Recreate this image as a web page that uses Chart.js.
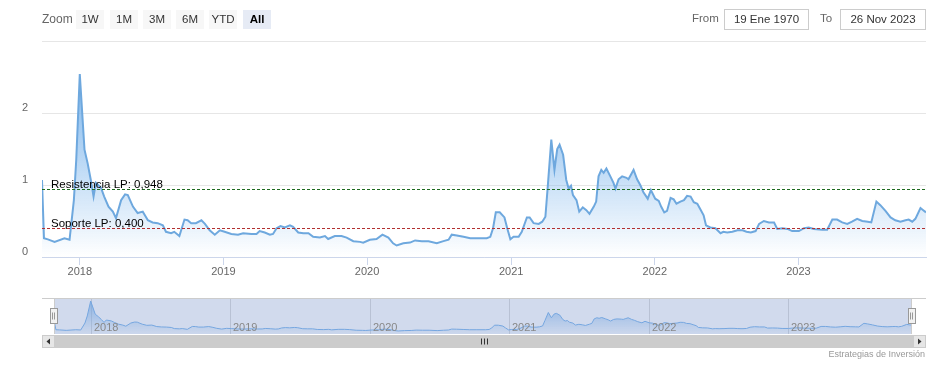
<!DOCTYPE html>
<html lang="es">
<head>
<meta charset="UTF-8">
<title>Resistencia y soporte</title>
<script src="https://cdn.jsdelivr.net/npm/chart.js@4"></script>
<style>
  body { margin: 0; background: #fff; font-family: 'Liberation Sans', Arial, sans-serif; }
  #wrap { position: relative; width: 946px; height: 365px; overflow: hidden; }
  #main { position: absolute; left: 0; top: 0; }
  #nav { position: absolute; left: 0; top: 290px; }
  .top { position: absolute; z-index: 2; }
  .zoom-label { left: 42px; top: 12px; font-size: 12px; color: #666; }
  .btn { top: 10px; width: 28px; height: 19px; line-height: 19px; text-align: center;
         font-size: 11.5px; color: #333; background: #f7f7f7; }
  .btn.active { background: #e6ebf5; font-weight: bold; color: #000; }
  .lbl { top: 12px; font-size: 11.5px; color: #666; }
  .box { top: 9px; height: 19px; line-height: 19px; border: 1px solid #ccc; text-align: center;
         font-size: 11.5px; color: #333; background: #fff; }
  .credit { position: absolute; right: 21px; top: 349px; font-size: 9px; color: #999; }
</style>
</head>
<body>
<div id="wrap">
  <canvas id="main" width="946" height="290"></canvas>
  <canvas id="nav" width="946" height="75"></canvas>
  <div class="top zoom-label">Zoom</div>
  <div id="buttons"></div>
  <div class="top lbl" style="left:692px">From</div>
  <div class="top box" style="left:724px;width:83px">19 Ene 1970</div>
  <div class="top lbl" style="left:820px">To</div>
  <div class="top box" style="left:840px;width:84px">26 Nov 2023</div>
  <div class="credit">Estrategias de Inversión</div>
</div>

<script>
// ---- data ----
const dates = [
  '2017-09-27','2017-10-02','2017-10-12','2017-10-29','2017-11-23','2017-12-06','2017-12-17','2017-12-23',
  '2018-01-01','2018-01-13','2018-01-21','2018-01-29','2018-02-05','2018-02-11','2018-02-24','2018-03-04','2018-03-15','2018-03-26',
  '2018-04-03','2018-04-16','2018-04-26','2018-05-03','2018-05-16','2018-05-28','2018-06-10','2018-06-23','2018-07-05','2018-07-18',
  '2018-07-31','2018-08-08','2018-08-21','2018-08-29','2018-09-11','2018-09-24','2018-10-02','2018-10-11','2018-10-23','2018-11-06',
  '2018-11-15','2018-11-27','2018-12-10','2018-12-23',
  '2019-01-04','2019-01-21','2019-02-07','2019-02-20','2019-03-13','2019-03-26','2019-04-03','2019-04-16','2019-04-29','2019-05-07',
  '2019-05-16','2019-05-26','2019-06-06','2019-06-19','2019-06-27','2019-07-10','2019-07-23','2019-08-05','2019-08-17','2019-09-03',
  '2019-09-16','2019-09-24','2019-10-11','2019-10-28','2019-11-10','2019-11-27','2019-12-14','2019-12-22',
  '2020-01-08','2020-01-25','2020-02-09','2020-02-24','2020-03-07','2020-03-16','2020-04-02','2020-04-19','2020-05-02','2020-05-19',
  '2020-06-05','2020-06-26','2020-07-13','2020-07-26','2020-08-03','2020-08-16','2020-09-02','2020-09-19','2020-10-06','2020-10-31',
  '2020-11-09','2020-11-16','2020-11-23','2020-12-03','2020-12-15','2020-12-22','2020-12-30',
  '2021-01-07','2021-01-20','2021-01-28','2021-02-10','2021-02-17','2021-02-27','2021-03-12','2021-03-21','2021-03-29','2021-04-04',
  '2021-04-13','2021-04-21','2021-04-28','2021-05-04','2021-05-13','2021-05-21','2021-05-27','2021-06-02','2021-06-07','2021-06-16',
  '2021-06-23','2021-07-02','2021-07-11','2021-07-19','2021-07-30','2021-08-05','2021-08-11','2021-08-18','2021-08-24','2021-08-31',
  '2021-09-10','2021-09-18','2021-09-23','2021-10-01','2021-10-10','2021-10-21','2021-10-26','2021-11-02','2021-11-08','2021-11-17',
  '2021-11-25','2021-12-03','2021-12-14','2021-12-22',
  '2022-01-02','2022-01-11','2022-01-17','2022-01-25','2022-02-01','2022-02-10','2022-02-18','2022-02-25','2022-03-07','2022-03-16',
  '2022-03-24','2022-04-02','2022-04-10','2022-04-19','2022-04-27','2022-05-05','2022-05-11','2022-05-22','2022-06-04','2022-06-17',
  '2022-06-24','2022-07-04','2022-07-17','2022-07-30','2022-08-12','2022-08-22','2022-09-02','2022-09-14','2022-09-23','2022-10-05',
  '2022-10-18','2022-10-31','2022-11-08','2022-11-21','2022-12-04','2022-12-16',
  '2023-01-02','2023-01-15','2023-01-27','2023-02-09','2023-03-02','2023-03-15','2023-03-28','2023-04-09','2023-04-22','2023-05-05',
  '2023-05-17','2023-05-30','2023-06-12','2023-06-26','2023-07-05','2023-07-18','2023-07-28','2023-08-10','2023-08-23','2023-09-04',
  '2023-09-17','2023-09-30','2023-10-08','2023-10-17','2023-10-25','2023-11-07','2023-11-14','2023-11-21'
];
const values = [
  1.07,0.26,0.245,0.21,0.26,0.24,0.79,1.35,
  2.54,1.49,1.30,1.07,0.84,1.03,0.96,0.84,0.70,0.63,
  0.54,0.79,0.87,0.86,0.70,0.61,0.63,0.51,0.48,0.47,
  0.44,0.35,0.33,0.35,0.29,0.52,0.51,0.47,0.47,0.51,
  0.46,0.37,0.31,0.37,
  0.35,0.32,0.31,0.33,0.32,0.32,0.36,0.34,0.31,0.32,
  0.40,0.43,0.41,0.44,0.42,0.34,0.33,0.33,0.28,0.27,
  0.29,0.25,0.29,0.29,0.27,0.22,0.21,0.20,
  0.24,0.25,0.31,0.27,0.19,0.16,0.19,0.20,0.23,0.22,
  0.22,0.19,0.22,0.24,0.31,0.30,0.28,0.26,0.26,0.26,
  0.28,0.40,0.62,0.62,0.55,0.40,0.245,
  0.28,0.28,0.35,0.55,0.55,0.47,0.46,0.49,0.56,0.98,
  1.63,1.21,1.50,1.56,1.42,1.07,0.95,0.99,0.86,0.79,
  0.63,0.69,0.65,0.60,0.70,0.77,1.12,1.21,1.17,1.23,
  1.12,1.03,0.95,1.08,1.12,1.10,1.08,1.15,1.21,1.08,
  1.00,0.90,0.81,0.93,
  0.81,0.78,0.70,0.62,0.64,0.82,0.80,0.74,0.77,0.79,
  0.85,0.84,0.76,0.74,0.66,0.58,0.44,0.41,0.40,0.33,
  0.35,0.34,0.35,0.37,0.37,0.35,0.34,0.36,0.46,0.50,
  0.48,0.48,0.39,0.40,0.39,0.36,
  0.36,0.40,0.41,0.39,0.38,0.38,0.52,0.52,0.48,0.46,
  0.49,0.53,0.50,0.49,0.48,0.77,0.72,0.64,0.55,0.51,
  0.49,0.51,0.52,0.49,0.53,0.68,0.65,0.62
];
const yearLabels = ['2018', '2019', '2020', '2021', '2022', '2023'];
const plotLineValues = [0.948, 0.400];
const plotLineLabels = ['Resistencia LP: 0,948', 'Soporte LP: 0,400'];
const plotLineColors = ['#1f6b1f', '#b23030'];
const rangeButtons = ['1W', '1M', '3M', '6M', 'YTD', 'All'];

// ---- range selector buttons ----
const btnLeft = [76, 110, 143, 176, 209, 243];
document.getElementById('buttons').innerHTML = rangeButtons.map((b, i) =>
  `<div class="top btn${b === 'All' ? ' active' : ''}" style="left:${btnLeft[i]}px">${b}</div>`).join('');

Chart.defaults.font.family = "'Liberation Sans', Arial, sans-serif";

const points = dates.map((d, i) => ({ x: Date.parse(d), y: values[i] }));
const xMin = points[0].x;
const xMax = points[points.length - 1].x;
const yearTicks = yearLabels.map(y => Date.UTC(+y, 0, 1));
const lineBlue = '#6ea8de';

function mainFill(context) {
  const chart = context.chart;
  const area = chart.chartArea;
  if (!area) return 'rgba(124,181,236,0.3)';
  const top = chart.scales.y.getPixelForValue(Math.max(...values));
  const g = chart.ctx.createLinearGradient(0, top, 0, area.bottom);
  g.addColorStop(0, 'rgba(124,181,236,1)');
  g.addColorStop(1, 'rgba(124,181,236,0)');
  return g;
}

const plotLinesPlugin = {
  id: 'plotLines',
  afterDatasetsDraw(chart) {
    const { ctx, chartArea, scales: { y } } = chart;
    plotLineValues.forEach((v, i) => {
      const py = Math.round(y.getPixelForValue(v)) + 0.5;
      ctx.save();
      ctx.strokeStyle = plotLineColors[i];
      ctx.lineWidth = 1;
      ctx.setLineDash([3, 2]);
      ctx.beginPath();
      ctx.moveTo(chartArea.left, py);
      ctx.lineTo(chartArea.right, py);
      ctx.stroke();
      ctx.setLineDash([]);
      ctx.fillStyle = '#000';
      ctx.font = "11.5px 'Liberation Sans', Arial, sans-serif";
      ctx.textBaseline = 'alphabetic';
      ctx.fillText(plotLineLabels[i], chartArea.left + 9, py - 1.5);
      ctx.restore();
    });
  }
};

new Chart(document.getElementById('main'), {
  type: 'line',
  data: {
    datasets: [{
      data: points,
      borderColor: lineBlue,
      borderWidth: 2,
      pointRadius: 0,
      tension: 0,
      fill: 'origin',
      backgroundColor: mainFill
    }]
  },
  options: {
    responsive: false,
    animation: false,
    devicePixelRatio: 1,
    layout: { padding: { top: 41, right: 20, bottom: 8, left: 0 } },
    plugins: { legend: { display: false }, tooltip: { enabled: false } },
    scales: {
      x: {
        type: 'linear',
        min: xMin,
        max: xMax,
        afterBuildTicks: s => { s.ticks = yearTicks.map(v => ({ value: v })); },
        afterFit: s => { s.height = 25; },
        ticks: {
          callback: v => String(new Date(v).getUTCFullYear()),
          autoSkip: false, maxRotation: 0, padding: 0,
          color: '#666', font: { size: 11 }
        },
        grid: { drawOnChartArea: false, drawTicks: true, tickLength: 8, tickColor: '#ccd6eb' },
        border: { color: '#ccd6eb', width: 1 }
      },
      y: {
        min: 0,
        max: 3,
        afterFit: s => { s.width = 42; },
        ticks: {
          stepSize: 1,
          callback: v => (v === 3 ? '' : String(v)),
          padding: 14,
          labelOffset: -5,
          color: '#666',
          font: { size: 11 }
        },
        grid: { color: '#e6e6e6', drawTicks: false },
        border: { display: false }
      }
    }
  },
  plugins: [plotLinesPlugin]
});

// ---- navigator ----
function navFill(context) {
  const area = context.chart.chartArea;
  if (!area) return 'rgba(124,181,236,0.3)';
  const g = context.chart.ctx.createLinearGradient(0, area.top, 0, area.bottom);
  g.addColorStop(0, 'rgba(124,181,236,0.8)');
  g.addColorStop(1, 'rgba(124,181,236,0.05)');
  return g;
}

const navigatorPlugin = {
  id: 'navigatorDecor',
  beforeDatasetsDraw(chart) {
    const { ctx, chartArea: a, scales: { x } } = chart;
    ctx.save();
    ctx.strokeStyle = '#dcdcdc';
    ctx.lineWidth = 1;
    yearTicks.forEach(t => {
      const px = Math.round(x.getPixelForValue(t)) + 0.5;
      ctx.beginPath();
      ctx.moveTo(px, a.top);
      ctx.lineTo(px, a.bottom);
      ctx.stroke();
    });
    ctx.restore();
  },
  afterDraw(chart) {
    const { ctx, chartArea: a, scales: { x } } = chart;
    ctx.save();
    // selected range mask
    ctx.fillStyle = 'rgba(102,133,194,0.3)';
    ctx.fillRect(a.left, a.top, a.right - a.left, a.bottom - a.top);
    // year labels
    ctx.fillStyle = '#888';
    ctx.font = "11px 'Liberation Sans', Arial, sans-serif";
    ctx.textBaseline = 'alphabetic';
    yearTicks.forEach((t, i) => {
      ctx.fillText(yearLabels[i], Math.round(x.getPixelForValue(t)) + 3, a.bottom - 3);
    });
    // outline
    ctx.strokeStyle = '#cccccc';
    ctx.lineWidth = 1;
    ctx.beginPath();
    ctx.moveTo(42, a.top + 0.5);
    ctx.lineTo(926, a.top + 0.5);
    ctx.moveTo(a.left + 0.5, a.top);
    ctx.lineTo(a.left + 0.5, a.bottom);
    ctx.moveTo(a.right - 0.5, a.top);
    ctx.lineTo(a.right - 0.5, a.bottom);
    ctx.stroke();
    // handles
    const hy = Math.round((a.top + a.bottom) / 2) - 7.5;
    [a.left, a.right].forEach(hx => {
      const rx = Math.round(hx) - 4 + 0.5;
      ctx.fillStyle = '#f2f2f2';
      ctx.strokeStyle = '#999';
      ctx.fillRect(rx, hy, 7, 15);
      ctx.strokeRect(rx, hy, 7, 15);
      ctx.beginPath();
      ctx.moveTo(rx + 2, hy + 4); ctx.lineTo(rx + 2, hy + 11);
      ctx.moveTo(rx + 4, hy + 4); ctx.lineTo(rx + 4, hy + 11);
      ctx.stroke();
    });
    // scrollbar
    const sy = a.bottom + 1, sh = 13;
    ctx.fillStyle = '#f2f2f2';
    ctx.fillRect(42, sy, 884, sh);
    ctx.fillStyle = '#cccccc';
    ctx.fillRect(55, sy, 858, sh);
    ctx.fillStyle = '#e6e6e6';
    ctx.fillRect(42, sy, 13, sh);
    ctx.fillRect(913, sy, 13, sh);
    ctx.strokeStyle = '#cccccc';
    ctx.strokeRect(42.5, sy + 0.5, 12, sh - 1);
    ctx.strokeRect(913.5, sy + 0.5, 12, sh - 1);
    ctx.fillStyle = '#333';
    const my = sy + sh / 2;
    ctx.beginPath();
    ctx.moveTo(50, my - 3); ctx.lineTo(46.5, my); ctx.lineTo(50, my + 3); ctx.closePath(); ctx.fill();
    ctx.beginPath();
    ctx.moveTo(918, my - 3); ctx.lineTo(921.5, my); ctx.lineTo(918, my + 3); ctx.closePath(); ctx.fill();
    ctx.strokeStyle = '#333';
    const cx = Math.round((55 + 913) / 2);
    ctx.beginPath();
    [-3, 0, 3].forEach(d => { ctx.moveTo(cx + d + 0.5, my - 3); ctx.lineTo(cx + d + 0.5, my + 3); });
    ctx.stroke();
    ctx.restore();
  }
};

new Chart(document.getElementById('nav'), {
  type: 'line',
  data: {
    datasets: [{
      data: points,
      borderColor: '#7cb5ec',
      borderWidth: 1,
      pointRadius: 0,
      tension: 0,
      fill: 'start',
      backgroundColor: navFill
    }]
  },
  options: {
    responsive: false,
    animation: false,
    devicePixelRatio: 1,
    layout: { padding: { top: 8, right: 34, bottom: 31, left: 54 } },
    plugins: { legend: { display: false }, tooltip: { enabled: false } },
    scales: {
      x: { type: 'linear', min: xMin, max: xMax, display: false },
      y: { min: -0.08, max: 2.78, display: false }
    }
  },
  plugins: [navigatorPlugin]
});
</script>
</body>
</html>
